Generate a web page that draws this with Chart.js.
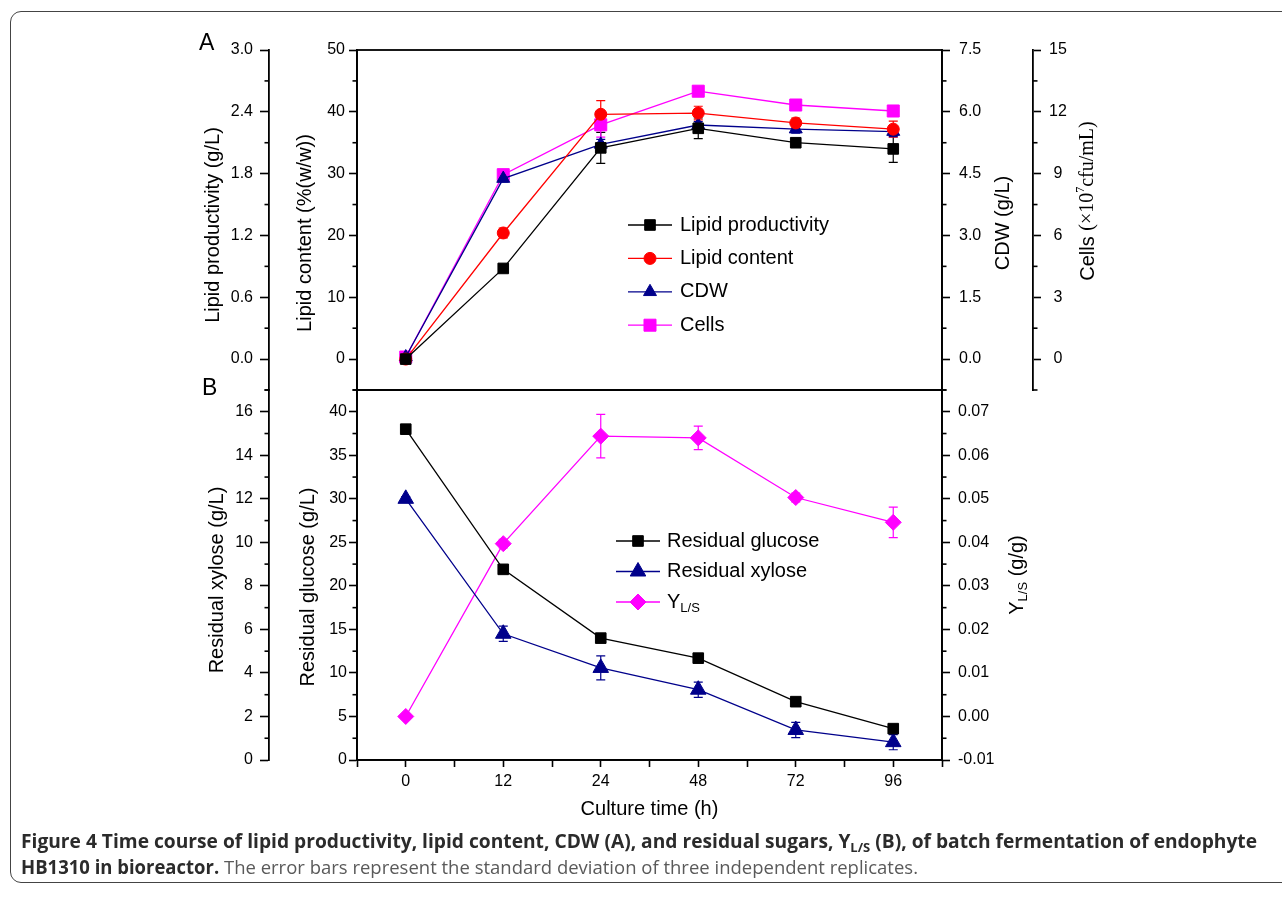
<!DOCTYPE html>
<html>
<head>
<meta charset="utf-8">
<script src="https://cdn.jsdelivr.net/npm/chart.js@4.4.0/dist/chart.umd.min.js"></script>
<style>
  body { margin: 0; background: #fff; width: 1282px; height: 898px; overflow: hidden; position: relative; }
  #frame { position: absolute; left: 10px; top: 11px; width: 1320px; height: 872px; border: 1.5px solid #444; border-radius: 11px; box-sizing: border-box; }
  canvas { position: absolute; left: 0; }
  #chartA { top: 0; }
  #chartB { top: 371px; }
  .panel { position: absolute; font-family: 'Liberation Sans', Arial, sans-serif; font-size: 23px; line-height: 26px; color: #000; }
  .cap { position: absolute; left: 21px; font-family: 'Open Sans', 'Noto Sans', sans-serif; font-size: 19px; line-height: 19px; white-space: nowrap; transform-origin: 0 50%; color: #2b2b2b; }
  .cap b { font-weight: 700; }
  .cap sub { font-size: 0.68em; line-height: 0; vertical-align: -0.3em; }
  .cap .light { color: #5a5a5a; }
</style>
</head>
<body>
<div id="frame"></div>
<canvas id="chartA" width="1282" height="409"></canvas>
<canvas id="chartB" width="1282" height="459"></canvas>
<div class="panel" style="left:199px; top:29px;">A</div>
<div class="panel" style="left:202px; top:374px;">B</div>
<div id="cap1" class="cap" style="top:832px;"><b>Figure 4 Time course of lipid productivity, lipid content, CDW (A), and residual sugars, Y<sub>L/S</sub> (B), of batch fermentation of endophyte</b></div>
<div id="cap2" class="cap" style="top:858px;"><b>HB1310 in bioreactor.</b> <span class="light">The error bars represent the standard deviation of three independent replicates.</span></div>
<script>
// culture time (h)
const times = ['0', '12', '24', '48', '72', '96'];

// panel A
const lipidProductivity = [0.00, 0.88, 2.05, 2.24, 2.10, 2.04];
const lipidProductivityErr = [0.01, 0.02, 0.15, 0.10, 0.03, 0.13];
const lipidContent = [0.0, 20.4, 39.6, 39.8, 38.2, 37.2];
const lipidContentErr = [0.3, 0.8, 2.2, 1.1, 0.8, 1.3];
const cdw = [0.05, 4.38, 5.21, 5.68, 5.58, 5.52];
const cdwErr = [0.03, 0.08, 0.12, 0.08, 0.10, 0.12];
const cells = [0.1, 8.95, 11.37, 13.0, 12.33, 12.04];
const cellsErr = [0.05, 0.15, 0.6, 0.15, 0.15, 0.15];

// panel B
const residualGlucose = [38.0, 21.9, 14.0, 11.7, 6.7, 3.6];
const residualGlucoseErr = [0.2, 0.3, 0.3, 0.3, 0.3, 0.3];
const residualXylose = [12.0, 5.8, 4.23, 3.23, 1.38, 0.82];
const residualXyloseErr = [0.1, 0.35, 0.55, 0.35, 0.35, 0.35];
const yieldLS = [0.0, 0.0397, 0.0644, 0.0640, 0.0503, 0.0446];
const yieldLSErr = [0, 0.001, 0.005, 0.0027, 0.001, 0.0035];

// tick labels
const lpTicks = [0, 0.6, 1.2, 1.8, 2.4, 3.0];
const lcTicks = [0, 10, 20, 30, 40, 50];
const cdwTicks = [0, 1.5, 3.0, 4.5, 6.0, 7.5];
const cellsTicks = [0, 3, 6, 9, 12, 15];
const xyloseTicks = [0, 2, 4, 6, 8, 10, 12, 14, 16];
const glucoseTicks = [0, 5, 10, 15, 20, 25, 30, 35, 40];
const ylsTicks = [-0.01, 0, 0.01, 0.02, 0.03, 0.04, 0.05, 0.06, 0.07];

const SANS = "'Liberation Sans', Arial, sans-serif";
const SERIF = "'Liberation Serif', 'Times New Roman', serif";
Chart.defaults.font.family = SANS;
Chart.defaults.color = '#000';

function minorsOf(majors, min, max) {
    const step = majors[1] - majors[0];
    const out = [];
    for (let i = -1; i < majors.length; i++) {
        const v = majors[0] + (i + 0.5) * step;
        if (v >= min - 1e-9 && v <= max + 1e-9) out.push(v);
    }
    return out;
}

function yAxis(o) {
    return {
        type: 'linear', position: o.pos, min: o.min, max: o.max,
        afterBuildTicks: s => { s.ticks = o.ticks.map(v => ({ value: v })); },
        afterFit: s => { s.width = o.width; },
        ticks: {
            autoSkip: false, padding: o.pad, color: '#000', font: { size: 16 },
            crossAlign: o.align || 'near',
            callback: v => v.toFixed(o.dec)
        },
        grid: { drawOnChartArea: false, tickLength: o.tick || 8, tickWidth: 1.6, tickColor: '#000' },
        border: { display: true, color: '#000', width: 1.8 },
        title: { display: false },
        minor: minorsOf(o.ticks, o.min, o.max)
    };
}

function series(label, values, errors, color, style, radius, axis) {
    return {
        label: label,
        data: values.map((v, i) => ({ x: i, y: v })),
        errors: errors,
        yAxisID: axis,
        borderColor: color, backgroundColor: color,
        pointStyle: style, pointRadius: radius, pointHoverRadius: radius,
        pointBorderWidth: 1, borderWidth: 1.3, tension: 0, fill: false
    };
}

function marker(ctx, style, r, x, y) {
    ctx.beginPath();
    if (style === 'circle') {
        ctx.arc(x, y, r, 0, Math.PI * 2);
    } else if (style === 'rect') {
        const s = r * Math.SQRT1_2;
        ctx.rect(x - s, y - s, 2 * s, 2 * s);
    } else if (style === 'rectRot') {
        ctx.moveTo(x, y - r); ctx.lineTo(x + r, y); ctx.lineTo(x, y + r); ctx.lineTo(x - r, y);
        ctx.closePath();
    } else if (style === 'triangle') {
        for (let k = 0; k < 3; k++) {
            const a = k * 2 * Math.PI / 3;
            const px = x + Math.sin(a) * r, py = y - Math.cos(a) * r;
            if (k === 0) ctx.moveTo(px, py); else ctx.lineTo(px, py);
        }
        ctx.closePath();
    }
    ctx.fill();
    ctx.stroke();
}

function drawRich(ctx, parts, cx, cy, rotate) {
    ctx.save();
    ctx.translate(cx, cy);
    if (rotate) ctx.rotate(-Math.PI / 2);
    ctx.textBaseline = 'middle';
    ctx.textAlign = 'left';
    ctx.fillStyle = '#000';
    let total = 0;
    parts.forEach(p => { ctx.font = p.font; total += ctx.measureText(p.text).width; });
    let x = rotate ? -total / 2 : 0;
    parts.forEach(p => {
        ctx.font = p.font;
        ctx.fillText(p.text, x, p.dy || 0);
        x += ctx.measureText(p.text).width;
    });
    ctx.restore();
}

function labelParts(label) {
    const bits = label.split('_');
    const parts = [{ text: bits[0], font: `20px ${SANS}` }];
    if (bits[1]) parts.push({ text: bits[1], font: `13px ${SANS}`, dy: 6 });
    return parts;
}

// frame round the plot area, minor ticks, error bars
const framePlugin = {
    id: 'framePlugin',
    afterDraw(chart) {
        const { ctx, chartArea: a } = chart;
        ctx.save();
        ctx.strokeStyle = '#000';
        ctx.lineWidth = 1.8;
        ctx.strokeRect(a.left, a.top, a.right - a.left, a.bottom - a.top);
        ctx.lineWidth = 1.6;
        Object.values(chart.scales).forEach(s => {
            const minor = chart.options.scales[s.id].minor;
            if (!minor) return;
            minor.forEach(v => {
                const y = s.getPixelForValue(v);
                ctx.beginPath();
                if (s.position === 'left') { ctx.moveTo(s.right - 4.5, y); ctx.lineTo(s.right, y); }
                else { ctx.moveTo(s.left, y); ctx.lineTo(s.left + 4.5, y); }
                ctx.stroke();
            });
        });
        ctx.restore();
    }
};

const errorBars = {
    id: 'errorBars',
    beforeDatasetsDraw(chart) {
        const ctx = chart.ctx;
        chart.data.datasets.forEach((ds, di) => {
            if (!ds.errors) return;
            const meta = chart.getDatasetMeta(di);
            const ys = chart.scales[ds.yAxisID];
            ctx.save();
            ctx.strokeStyle = ds.borderColor;
            ctx.lineWidth = 1.2;
            ds.data.forEach((p, i) => {
                const e = ds.errors[i];
                if (!e) return;
                const x = meta.data[i].x;
                const y1 = ys.getPixelForValue(p.y + e);
                const y2 = ys.getPixelForValue(p.y - e);
                ctx.beginPath();
                ctx.moveTo(x, y1); ctx.lineTo(x, y2);
                ctx.moveTo(x - 4.5, y1); ctx.lineTo(x + 4.5, y1);
                ctx.moveTo(x - 4.5, y2); ctx.lineTo(x + 4.5, y2);
                ctx.stroke();
            });
            ctx.restore();
        });
    }
};

function makeLegend(lineX, lineLen, textX, firstY, gap) {
    return {
        id: 'inlineLegend',
        afterDraw(chart) {
            const ctx = chart.ctx;
            chart.data.datasets.forEach((ds, i) => {
                const y = firstY + i * gap;
                ctx.save();
                ctx.strokeStyle = ds.borderColor;
                ctx.fillStyle = ds.backgroundColor;
                ctx.lineWidth = 1.3;
                ctx.beginPath();
                ctx.moveTo(lineX, y); ctx.lineTo(lineX + lineLen, y);
                ctx.stroke();
                ctx.lineWidth = 1;
                marker(ctx, ds.pointStyle, ds.pointRadius, lineX + lineLen / 2, y);
                ctx.restore();
                drawRich(ctx, labelParts(ds.label), textX, y, false);
            });
        }
    };
}

function makeTitles(list) {
    return {
        id: 'axisTitles',
        afterDraw(chart) {
            list.forEach(t => drawRich(chart.ctx, t.parts, t.x, t.y, true));
        }
    };
}

const plain = text => [{ text: text, font: `20px ${SANS}` }];

new Chart(document.getElementById('chartA'), {
    type: 'line',
    data: {
        datasets: [
            series('Lipid productivity', lipidProductivity, lipidProductivityErr, '#000000', 'rect', 7.5, 'lp'),
            series('Lipid content', lipidContent, lipidContentErr, '#ff0000', 'circle', 6, 'lc'),
            series('CDW', cdw, cdwErr, '#00008b', 'triangle', 7.5, 'cdw'),
            series('Cells', cells, cellsErr, '#ff00ff', 'rect', 8.5, 'cells')
        ]
    },
    options: {
        responsive: false,
        animation: false,
        layout: { padding: { top: 50, bottom: 19, left: 0, right: 0 } },
        plugins: { legend: { display: false }, tooltip: { enabled: false } },
        scales: {
            x: { type: 'linear', display: false, min: -0.5, max: 5.5 },
            lc: yAxis({ pos: 'left', min: -5, max: 50, ticks: lcTicks, dec: 0, width: 88, pad: 4 }),
            lp: yAxis({ pos: 'left', min: -0.3, max: 3.0, ticks: lpTicks, dec: 1, width: 269, pad: 7, tick: 9 }),
            cdw: yAxis({ pos: 'right', min: -0.75, max: 7.5, ticks: cdwTicks, dec: 1, width: 91, pad: 9 }),
            cells: yAxis({ pos: 'right', min: -1.5, max: 15, ticks: cellsTicks, dec: 0, width: 249, pad: 8, align: 'center' })
        }
    },
    plugins: [framePlugin, errorBars, makeLegend(628, 44, 680, 225, 33.4), makeTitles([
        { parts: plain('Lipid productivity (g/L)'), x: 213, y: 225 },
        { parts: plain('Lipid content (%(w/w))'), x: 305, y: 233 },
        { parts: plain('CDW (g/L)'), x: 1003, y: 223 },
        { parts: [
            { text: 'Cells ', font: `20px ${SANS}` },
            { text: '(\u00d710', font: `20px ${SERIF}` },
            { text: '7', font: `12px ${SERIF}`, dy: -7 },
            { text: 'cfu/mL)', font: `20px ${SERIF}` }
        ], x: 1088, y: 201 }
    ])]
});

new Chart(document.getElementById('chartB'), {
    type: 'line',
    data: {
        datasets: [
            series('Residual glucose', residualGlucose, residualGlucoseErr, '#000000', 'rect', 7.5, 'glucose'),
            series('Residual xylose', residualXylose, residualXyloseErr, '#00008b', 'triangle', 9, 'xylose'),
            series('Y_L/S', yieldLS, yieldLSErr, '#ff00ff', 'rectRot', 8, 'yls')
        ]
    },
    options: {
        responsive: false,
        animation: false,
        layout: { padding: { top: 19, bottom: 0, left: 0, right: 0 } },
        plugins: { legend: { display: false }, tooltip: { enabled: false } },
        scales: {
            x: {
                type: 'linear', position: 'bottom', min: -0.5, max: 5.5,
                afterBuildTicks: s => {
                    const vals = [];
                    times.forEach((t, i) => { vals.push({ value: i - 0.5 }, { value: i }); });
                    vals.push({ value: times.length - 0.5 });
                    s.ticks = vals;
                },
                afterFit: s => { s.height = 70; },
                ticks: {
                    autoSkip: false, maxRotation: 0, padding: 5, color: '#000', font: { size: 16 },
                    callback: v => Number.isInteger(v) ? times[v] : ''
                },
                grid: { drawOnChartArea: false, tickLength: 7, tickWidth: 1.6, tickColor: '#000' },
                border: { display: true, color: '#000', width: 1.8 },
                title: { display: true, text: 'Culture time (h)', color: '#000', font: { size: 20 }, padding: { top: 0, bottom: 9 } }
            },
            glucose: yAxis({ pos: 'left', min: 0, max: 42.5, ticks: glucoseTicks, dec: 0, width: 88, pad: 2 }),
            xylose: yAxis({ pos: 'left', min: 0, max: 17, ticks: xyloseTicks, dec: 0, width: 269, pad: 7, tick: 9 }),
            yls: yAxis({ pos: 'right', min: -0.01, max: 0.075, ticks: ylsTicks, dec: 2, width: 340, pad: 8 })
        }
    },
    plugins: [framePlugin, errorBars, makeLegend(616, 44, 667, 170, 30.5), makeTitles([
        { parts: plain('Residual xylose (g/L)'), x: 217, y: 209 },
        { parts: plain('Residual glucose (g/L)'), x: 308, y: 216 },
        { parts: [
            { text: 'Y', font: `20px ${SANS}` },
            { text: 'L/S', font: `13px ${SANS}`, dy: 6 },
            { text: ' (g/g)', font: `20px ${SANS}` }
        ], x: 1017, y: 204 }
    ])]
});

function fitLine(id, target) {
    const el = document.getElementById(id);
    const w = el.getBoundingClientRect().width;
    if (w > 0) el.style.transform = `scaleX(${target / w})`;
}
fitLine('cap1', 1236);
fitLine('cap2', 897);
</script>
</body>
</html>
